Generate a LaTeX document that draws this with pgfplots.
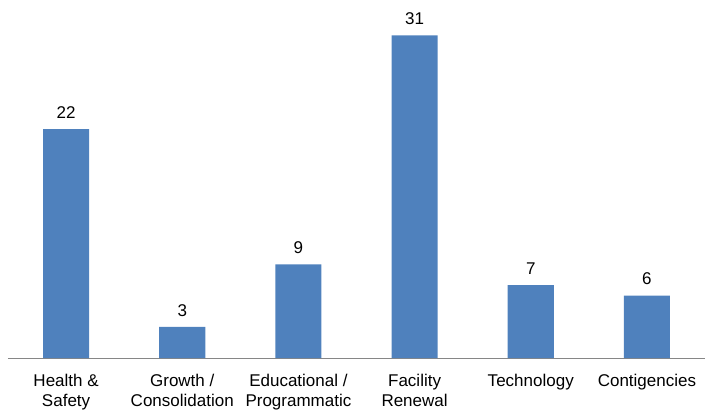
\documentclass[border=0pt]{standalone}
\usepackage{fontspec}
\setmainfont{Liberation Sans}
\usepackage{pgfplots}
\pgfplotsset{compat=1.18}
\definecolor{barblue}{HTML}{4F81BD}
\definecolor{axisgray}{HTML}{868686}
\begin{document}
\begin{tikzpicture}
\useasboundingbox (0pt,0pt) rectangle (712pt,410pt);
\begin{axis}[
  at={(8pt,52pt)}, anchor=south west,
  scale only axis,
  width=697pt, height=353.9pt,
  xmin=-0.5, xmax=5.5,
  ymin=0, ymax=34,
  axis x line*=bottom,
  axis y line=none,
  x axis line style={axisgray, line width=1pt, -},
  xtick=data,
  xticklabels={{Health \&\\Safety},{Growth /\\Consolidation},{Educational /\\Programmatic},{Facility\\Renewal},{Technology},{Contigencies}},
  xtick style={draw=none},
  xticklabel style={align=center, font=\fontsize{17pt}{20pt}\selectfont, anchor=north, yshift=-8pt},
  ybar, bar width=46pt,
  nodes near coords,
  /pgf/number format/assume math mode=true,
  every node near coord/.append style={font=\fontsize{17pt}{20pt}\selectfont, black, yshift=7pt},
  clip=false,
]
\addplot[fill=barblue, draw=none] coordinates {(0,22) (1,3) (2,9) (3,31) (4,7) (5,6)};
\end{axis}
\end{tikzpicture}
\end{document}
